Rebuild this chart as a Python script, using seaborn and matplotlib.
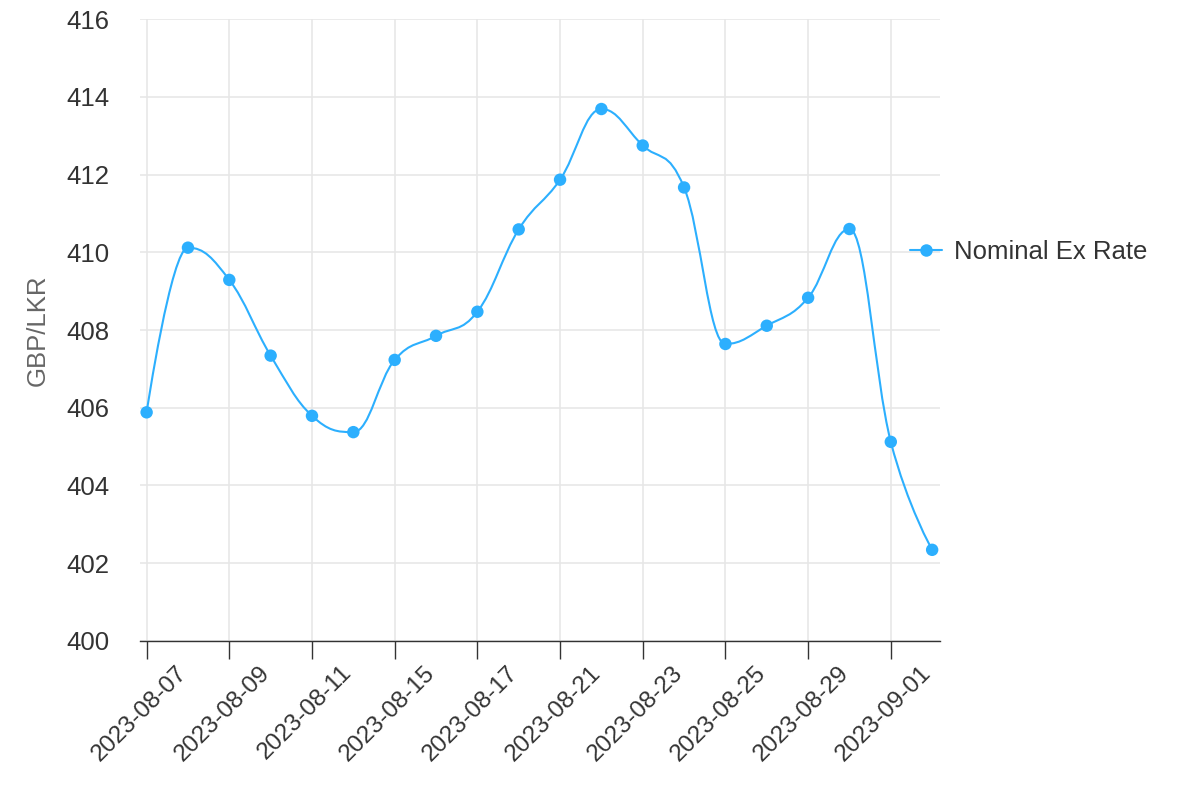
import matplotlib
matplotlib.use("Agg")
import matplotlib.pyplot as plt
import matplotlib.transforms as mtransforms
from matplotlib.path import Path
from matplotlib.patches import PathPatch
from matplotlib.lines import Line2D
import seaborn as sns
import pandas as pd

# ---- data ----
dates = ["2023-08-07", "2023-08-08", "2023-08-09", "2023-08-10", "2023-08-11",
         "2023-08-14", "2023-08-15", "2023-08-16", "2023-08-17", "2023-08-18",
         "2023-08-21", "2023-08-22", "2023-08-23", "2023-08-24", "2023-08-25",
         "2023-08-28", "2023-08-29", "2023-08-30", "2023-09-01", "2023-09-04"]
rates = [405.88, 410.12, 409.29, 407.34, 405.79,
         405.37, 407.23, 407.85, 408.47, 410.59,
         411.87, 413.69, 412.75, 411.67, 407.64,
         408.11, 408.83, 410.60, 405.12, 402.34]
series_name = "Nominal Ex Rate"
y_label = "GBP/LKR"
y_ticks = [400, 402, 404, 406, 408, 410, 412, 414, 416]

COLOR = "#2caffe"
TEXT = "#333333"

sns.set_theme(style="white")
plt.rcParams["font.family"] = ["Liberation Sans", "DejaVu Sans"]

df = pd.DataFrame({"idx": range(len(dates)), "date": dates, "rate": rates})

fig = plt.figure(figsize=(12, 8), dpi=100)
ax = fig.add_axes([140 / 1200, 1 - 640.7 / 800, 800 / 1200, (640.7 - 19.3) / 800])


def spline_path(xs, ys, smoothing=1.5):
    """Highcharts-style spline built from the data points."""
    n = len(xs)
    denom = smoothing + 1
    right_c = [None] * n
    verts = [(xs[0], ys[0])]
    codes = [Path.MOVETO]
    for i in range(1, n):
        px, py = xs[i], ys[i]
        lx, ly = xs[i - 1], ys[i - 1]
        lcx, lcy = px, py
        if i < n - 1:
            nx, ny = xs[i + 1], ys[i + 1]
            lcx = (smoothing * px + lx) / denom
            lcy = (smoothing * py + ly) / denom
            rcx = (smoothing * px + nx) / denom
            rcy = (smoothing * py + ny) / denom
            corr = 0
            if rcx != lcx:
                corr = (rcy - lcy) * (rcx - px) / (rcx - lcx) + py - rcy
            lcy += corr
            rcy += corr
            if lcy > ly and lcy > py:
                lcy = max(ly, py)
                rcy = 2 * py - lcy
            elif lcy < ly and lcy < py:
                lcy = min(ly, py)
                rcy = 2 * py - lcy
            if rcy > ny and rcy > py:
                rcy = max(ny, py)
                lcy = 2 * py - rcy
            elif rcy < ny and rcy < py:
                rcy = min(ny, py)
                lcy = 2 * py - rcy
            right_c[i] = (rcx, rcy)
        prev_c = right_c[i - 1] if right_c[i - 1] is not None else (lx, ly)
        verts += [prev_c, (lcx, lcy), (px, py)]
        codes += [Path.CURVE4, Path.CURVE4, Path.CURVE4]
    return Path(verts, codes)


path = spline_path(list(df["idx"].astype(float)), list(df["rate"]))
ax.add_patch(PathPatch(path, facecolor="none", edgecolor=COLOR, lw=1.5, zorder=3,
                       capstyle="round", joinstyle="round"))

sns.scatterplot(data=df, x="idx", y="rate", ax=ax, color=COLOR, s=80,
                edgecolor="none", zorder=4, legend=False)

# axes styling
ax.set_xlim(-0.16, len(dates) - 1 + 0.19)
ax.set_ylim(400, 416)
ax.set_yticks(y_ticks)
ax.set_yticklabels([str(t) for t in y_ticks])
tick_pos = list(range(0, len(dates), 2))
ax.set_xticks(tick_pos)
ax.set_xticklabels([dates[i] for i in tick_pos], rotation=45, ha="center", va="top")
ax.set_xlabel("")
ax.set_ylabel("")

for s in ["top", "right", "left"]:
    ax.spines[s].set_visible(False)
ax.spines["bottom"].set_color(TEXT)
ax.spines["bottom"].set_linewidth(1.0)
ax.spines["bottom"].set_zorder(5)

ax.grid(True, color="#e6e6e6", lw=1.1)
ax.set_axisbelow(True)

ax.tick_params(axis="y", length=0, pad=22, labelsize=18.5, labelcolor=TEXT)
ax.tick_params(axis="x", length=13, width=1.0, color=TEXT, direction="out",
               pad=2, labelsize=17.5, labelcolor=TEXT, bottom=True)

offset = mtransforms.ScaledTranslation(-7 / 100, 0, fig.dpi_scale_trans)
for lab in ax.get_xticklabels():
    lab.set_transform(lab.get_transform() + offset)

fig.text(38 / 1200, 1 - 330 / 800, y_label, rotation=90, ha="center", va="center",
         fontsize=18.5, color="#666666")

handle = Line2D([], [], color=COLOR, lw=1.5, marker="o", markersize=9,
                markeredgewidth=0)
fig.legend([handle], [series_name], loc="center left",
           bbox_to_anchor=(910 / 1200, 1 - 251.7 / 800), frameon=False,
           fontsize=18.5, handlelength=1.25, handletextpad=0.45,
           borderpad=0, borderaxespad=0, labelcolor=TEXT)

fig.savefig("out.png", dpi=100)
